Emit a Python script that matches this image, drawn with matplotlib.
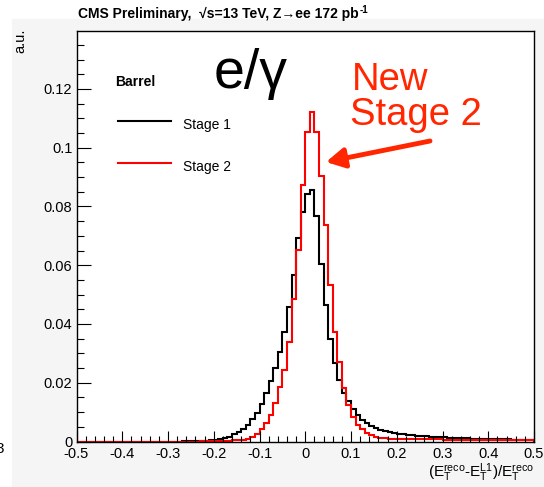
import matplotlib.pyplot as plt
import numpy as np
from matplotlib.lines import Line2D
from matplotlib.patches import Rectangle
from matplotlib.ticker import MultipleLocator

plt.rcParams['font.family'] = ['Liberation Sans', 'DejaVu Sans']
plt.rcParams['mathtext.fontset'] = 'custom'
plt.rcParams['mathtext.rm'] = 'Liberation Sans'
plt.rcParams['mathtext.it'] = 'Liberation Sans:italic'
plt.rcParams['mathtext.bf'] = 'Liberation Sans:bold'
plt.rcParams['mathtext.default'] = 'regular'

# binning of the histograms
bin_lo, bin_hi, n_bins = -0.5, 0.5, 100

# Stage 1 (black), 100 bins from -0.5 to 0.5
stage1 = [0.0] * 23 + [
    0.0001, 0.0001, 0.0002, 0.0002, 0.0003, 0.0003, 0.0004,
    0.0005, 0.0008, 0.0011, 0.0016, 0.0026, 0.0032, 0.0044, 0.0056, 0.0076, 0.0098,
    0.0128, 0.0164, 0.0206, 0.0249, 0.0303, 0.0374, 0.0459, 0.0567, 0.0692, 0.0781,
    0.0842, 0.0855, 0.0766, 0.0605, 0.0466, 0.0349, 0.0266, 0.0210, 0.0164, 0.0137,
    0.0110, 0.0090, 0.0073, 0.0062, 0.0053, 0.0045, 0.0039, 0.0036, 0.0031, 0.0028,
    0.0026, 0.0025, 0.0023, 0.0022, 0.0020, 0.0019, 0.0018, 0.0017, 0.0016, 0.0015,
    0.0014, 0.0013, 0.0013, 0.0012, 0.0011, 0.0011, 0.0010, 0.0010, 0.0009, 0.0009,
    0.0008, 0.0008, 0.0007, 0.0007, 0.0007, 0.0006, 0.0006, 0.0006, 0.0005, 0.0005,
]

# Stage 2 (red)
stage2 = [0.0] * 27 + [
    0.0001, 0.0001, 0.0001,
    0.0002, 0.0002, 0.0003, 0.0003, 0.0004, 0.0004, 0.0005, 0.0008, 0.0014, 0.0026,
    0.0042, 0.0062, 0.0090, 0.0130, 0.0185, 0.0244, 0.0337, 0.0486, 0.0652, 0.0874,
    0.1053, 0.1120, 0.1053, 0.0904, 0.0738, 0.0533, 0.0374, 0.0269, 0.0181, 0.0124,
    0.0085, 0.0056, 0.0042, 0.0028, 0.0022, 0.0016, 0.0013, 0.0011, 0.0010, 0.0009,
    0.0009, 0.0008, 0.0008, 0.0008, 0.0008, 0.0007, 0.0007, 0.0007, 0.0007, 0.0007,
    0.0006, 0.0006, 0.0006, 0.0006, 0.0006, 0.0006, 0.0005, 0.0005, 0.0005, 0.0005,
    0.0005, 0.0005, 0.0005, 0.0005, 0.0005, 0.0005, 0.0005, 0.0004, 0.0004, 0.0004,
]

x_ticks = [-0.5, -0.4, -0.3, -0.2, -0.1, 0.0, 0.1, 0.2, 0.3, 0.4, 0.5]
x_tick_labels = ["-0.5", "-0.4", "-0.3", "-0.2", "-0.1", "0", "0.1", "0.2", "0.3", "0.4", "0.5"]
y_ticks = [0.0, 0.02, 0.04, 0.06, 0.08, 0.10, 0.12]
y_tick_labels = ["0", "0.02", "0.04", "0.06", "0.08", "0.1", "0.12"]

W, H = 544, 487
fig = plt.figure(figsize=(W / 100, H / 100), dpi=100)


def fx(px):
    return px / W


def fy(py):
    return 1 - py / H


# light grey strip at the bottom of the slide
fig.add_artist(Rectangle((fx(12), 0), fx(W - 12), 1 - fy(468), transform=fig.transFigure,
                         color="#f5f5f5", zorder=0))

ax = fig.add_axes([fx(76.5), fy(441.5), fx(534 - 76.5), (441.5 - 31) / H])
edges = np.linspace(bin_lo, bin_hi, n_bins + 1)
ax.stairs(stage1, edges, color="black", lw=1.5)
ax.stairs(stage2, edges, color="#ff0000", lw=1.5)

ax.set_xlim(bin_lo, bin_hi)
ax.set_ylim(0, 0.1397)
ax.set_xticks(x_ticks, x_tick_labels)
ax.set_yticks(y_ticks, y_tick_labels)
ax.xaxis.set_minor_locator(MultipleLocator(0.02))
ax.yaxis.set_minor_locator(MultipleLocator(0.005))
ax.tick_params(axis="both", which="both", direction="in", top=False, right=False,
               width=0.8, labelsize=10.5)
ax.tick_params(axis="x", which="major", length=8, pad=4)
ax.tick_params(axis="x", which="minor", length=4)
ax.tick_params(axis="y", which="major", length=10, pad=3)
ax.tick_params(axis="y", which="minor", length=5)
for s in ax.spines.values():
    s.set_linewidth(1.0)

# titles and axis labels
title = fig.text(fx(78), fy(14), "CMS Preliminary,  √s=13 TeV, Z→ee 172 pb",
                 fontsize=10, fontweight="bold", ha="left", va="center")
fig.canvas.draw()
tb = title.get_window_extent()
fig.text(tb.x1 / W + fx(0.5), fy(10), "-1", fontsize=7, fontweight="bold",
         ha="left", va="center")
fig.text(fx(20), fy(29), "a.u.", rotation=90, fontsize=10.5, ha="center", va="top")
fig.text(fx(534), fy(473), r"$(E_{T}^{reco}$-$E_{T}^{L1})/E_{T}^{reco}$",
         fontsize=11, ha="right", va="center")
fig.text(fx(4), fy(453), "3", fontsize=11, ha="right", va="baseline")

# legend
fig.text(fx(115), fy(86.5), "Barrel", fontsize=10, fontweight="bold", ha="left", va="baseline")
fig.add_artist(Line2D([fx(118), fx(171)], [fy(121), fy(121)], color="black", lw=1.5,
                      transform=fig.transFigure))
fig.add_artist(Line2D([fx(118), fx(171)], [fy(163), fy(163)], color="#ff0000", lw=1.5,
                      transform=fig.transFigure))
fig.text(fx(183), fy(128.5), "Stage 1", fontsize=10, ha="left", va="baseline")
fig.text(fx(183), fy(171.5), "Stage 2", fontsize=10, ha="left", va="baseline")

# slide annotations
fig.text(fx(214), fy(88), "e/γ", fontsize=40, ha="left", va="baseline")
fig.text(fx(352), fy(90), "New", fontsize=27.5, color="#ff2600", ha="left", va="baseline")
fig.text(fx(350), fy(125), "Stage 2", fontsize=27.5, color="#ff2600", ha="left", va="baseline")
ax.annotate("", xy=(326, H - 162), xytext=(430, H - 141), xycoords="figure pixels",
            textcoords="figure pixels",
            arrowprops=dict(arrowstyle="-|>,head_length=1.1,head_width=0.6",
                            color="#ff2600", lw=3.5, shrinkA=0, shrinkB=0))

plt.savefig("out.png", dpi=100)
